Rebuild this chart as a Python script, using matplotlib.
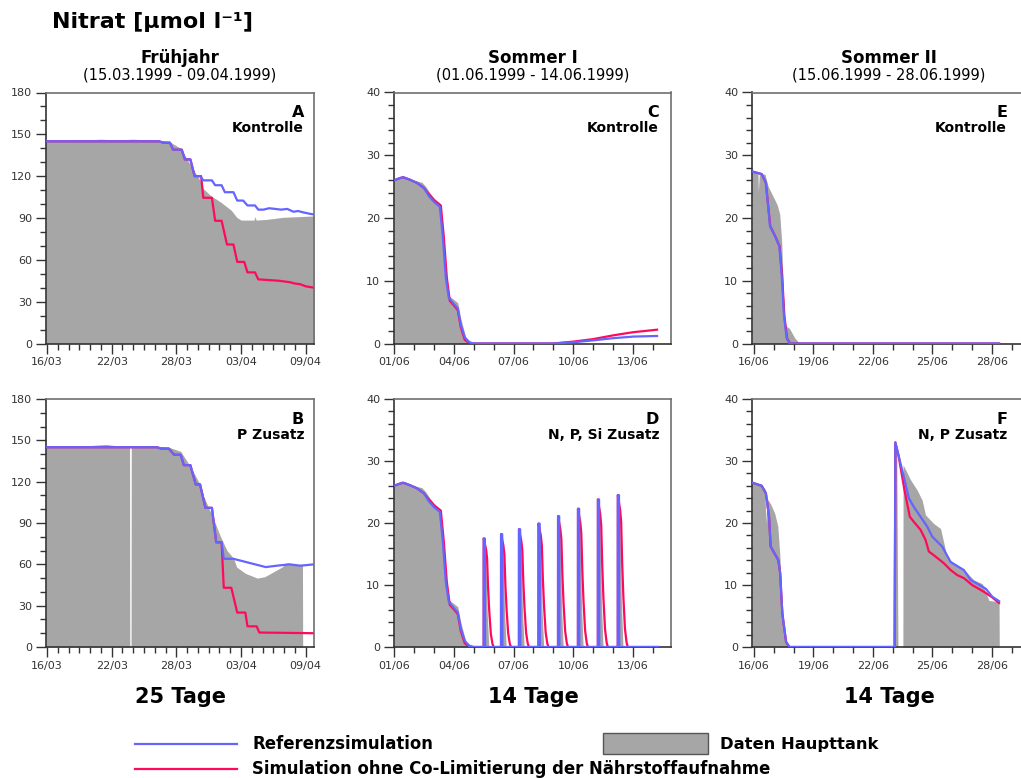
import matplotlib
matplotlib.use("Agg")
import matplotlib.pyplot as plt
import matplotlib.patches as mpatches
from matplotlib.ticker import MultipleLocator, FuncFormatter
from datetime import date, timedelta

plt.rcParams['font.family'] = ['DejaVu Sans']

BLUE = '#6464ff'
RED  = '#ff0a5a'
GREY = '#a6a6a6'

# --- Frühjahr (days since 16.03.1999) -------------------------------------
A_GREY_T = [-0.1, 2.0, 5.0, 6.5, 8.0, 10.5, 11.3, 12.4, 13.3, 14.2, 14.5, 15.2, 16.1,
            17.1, 17.6, 18.0, 19.2, 19.3, 19.4, 20.4, 21.9, 23.4, 24.8]
A_GREY_V = [145.5, 145.5, 146.5, 146.0, 146.5, 145.5, 145.0, 140.0, 128.0, 117.0,
            111.0, 106.0, 101.5, 95.5, 90.5, 88.5, 88.5, 91.0, 88.5, 89.0, 90.5, 91.0, 91.5]
A_BLUE_T = [-0.1, 10.4, 10.8, 11.4, 11.7, 12.5, 12.8, 13.3, 13.7, 14.2, 14.5, 15.3,
            15.6, 16.2, 16.5, 17.3, 17.65, 18.2, 18.6, 19.3, 19.6, 20.1, 20.6, 21.2,
            21.7, 22.3, 22.85, 23.3, 23.8, 24.4, 24.8]
A_BLUE_V = [145.0, 145.0, 144.0, 144.0, 139.0, 139.0, 132.0, 132.0, 120.0, 120.0,
            117.0, 117.0, 113.5, 113.5, 108.5, 108.5, 102.5, 102.5, 99.0, 99.0, 96.0,
            96.0, 97.0, 96.5, 96.0, 96.5, 94.5, 95.0, 94.0, 93.0, 92.5]
A_RED_T = [-0.1, 10.4, 10.8, 11.4, 11.7, 12.5, 12.8, 13.3, 13.7, 14.3, 14.5, 15.3,
           15.6, 16.2, 16.7, 17.3, 17.65, 18.3, 18.6, 19.3, 19.6, 21.5, 22.5, 23.0,
           23.5, 24.0, 24.8]
A_RED_V = [145.0, 145.0, 144.0, 144.0, 139.0, 139.0, 132.0, 132.0, 120.0, 120.0,
           104.5, 104.5, 88.0, 88.0, 71.0, 71.0, 58.5, 58.5, 51.0, 51.0, 46.0, 45.0,
           44.0, 43.0, 42.5, 41.0, 40.0]

B_GREY_T = [-0.1, 3.0, 4.5, 5.5, 6.5, 7.66, 7.68, 7.80, 7.82, 10.5, 11.3, 12.4, 13.3,
            14.2, 14.5, 15.5, 16.1, 16.7, 17.3, 17.6, 18.4, 19.5, 20.2, 21.0, 21.8,
            22.2, 23.0, 23.7, 23.72]
B_GREY_V = [145.5, 145.5, 146.5, 147.0, 146.0, 145.5, 0.0, 0.0, 145.5, 145.5, 145.0,
            142.0, 131.0, 118.0, 110.0, 92.0, 80.0, 70.0, 64.5, 58.0, 53.5, 50.0, 51.0,
            54.5, 58.0, 61.0, 60.0, 60.0, 0.0]
B_BLUE_T = [-0.1, 10.2, 10.6, 11.3, 11.8, 12.4, 12.7, 13.3, 13.8, 14.2, 14.7, 15.3,
            15.7, 16.2, 16.4, 17.3, 18.3, 19.3, 20.3, 21.3, 22.5, 23.5, 24.8]
B_BLUE_V = [145.0, 145.0, 144.0, 144.0, 139.5, 139.5, 132.0, 132.0, 118.0, 118.0,
            101.0, 101.0, 76.0, 76.0, 64.0, 64.0, 62.0, 60.0, 58.0, 59.0, 60.0, 59.0, 60.0]
B_RED_T = [-0.1, 10.2, 10.6, 11.3, 11.8, 12.4, 12.7, 13.3, 13.8, 14.2, 14.7, 15.3,
           15.7, 16.2, 16.4, 17.1, 17.65, 18.4, 18.6, 19.45, 19.7, 24.8]
B_RED_V = [145.0, 145.0, 144.0, 144.0, 139.5, 139.5, 132.0, 132.0, 118.0, 118.0,
           101.0, 101.0, 76.0, 76.0, 43.0, 43.0, 25.0, 25.0, 15.0, 15.0, 10.5, 10.0]

# --- Sommer I (days since 01.06.1999) -------------------------------------
C_GREY_T = [0.0, 0.5, 1.0, 1.4, 1.6, 1.8, 2.05, 2.3, 2.45, 2.65, 2.8, 3.2, 3.35, 3.6,
            3.9, 4.1, 13.3]
C_GREY_V = [26.0, 26.7, 26.0, 25.7, 25.0, 24.0, 23.0, 21.5, 17.0, 9.0, 7.5, 6.5, 4.0,
            1.0, 0.2, 0.0, 0.0]
C_BLUE_T = [0.0, 0.25, 0.45, 0.8, 1.15, 1.5, 1.75, 2.0, 2.3, 2.45, 2.6, 2.75, 3.0,
            3.2, 3.35, 3.55, 3.75, 4.0, 8.0, 9.0, 10.0, 11.0, 12.0, 13.2]
C_BLUE_V = [26.0, 26.3, 26.5, 26.1, 25.6, 24.8, 23.5, 22.6, 21.8, 17.0, 10.5, 7.3,
            6.3, 5.6, 3.0, 1.0, 0.2, 0.0, 0.0, 0.2, 0.5, 0.85, 1.1, 1.2]
C_RED_T = [0.0, 0.25, 0.45, 0.8, 1.15, 1.5, 1.75, 2.0, 2.35, 2.5, 2.65, 2.8, 3.05,
           3.2, 3.35, 3.55, 3.75, 4.0, 8.0, 9.0, 10.0, 11.0, 12.0, 13.2]
C_RED_V = [26.0, 26.3, 26.5, 26.1, 25.6, 24.8, 23.8, 22.9, 22.0, 17.0, 10.5, 6.8,
           5.9, 5.3, 2.6, 0.6, 0.1, 0.0, 0.0, 0.3, 0.7, 1.3, 1.8, 2.2]

# N, P, Si pulses in tank D
D_PULSE_T = [4.50, 5.37, 6.27, 7.25, 8.23, 9.23, 10.23, 11.23]
D_PULSE_PEAK = [17.5, 18.2, 19.0, 19.9, 21.1, 22.3, 23.8, 24.5]
# shape of one pulse: offset after addition [d], fraction of the peak
BLUE_PULSE_DT = [0.0, 0.003, 0.06, 0.07]
BLUE_PULSE_FR = [0.0, 1.0, 1.0, 0.0]
RED_PULSE_DT = [0.0, 0.003, 0.06, 0.12, 0.17, 0.22, 0.28, 0.36, 0.44, 0.5]
RED_PULSE_FR = [0.0, 1.0, 0.95, 0.9, 0.82, 0.55, 0.33, 0.12, 0.03, 0.0]
GREY_PULSE_DT = [0.0, 0.003, 0.1, 0.18, 0.26]
GREY_PULSE_FR = [0.0, 0.97, 0.9, 0.3, 0.0]
D_END = 13.25

# --- Sommer II (days since 16.06.1999) ------------------------------------
E_GREY_T = [-0.1, 0.2, 0.22, 0.27, 0.32, 0.55, 0.72, 0.97, 1.17, 1.3, 1.4, 1.48,
            1.57, 1.79, 2.07, 2.33, 4.3, 4.5, 4.7, 12.36]
E_GREY_V = [27.5, 27.2, 24.2, 27.0, 27.0, 27.0, 25.0, 23.4, 22.1, 20.6, 16.0, 8.2,
            2.9, 2.4, 0.8, 0.0, 0.0, 0.25, 0.0, 0.0]
E_BLUE_T = [-0.08, 0.39, 0.6, 0.81, 1.06, 1.28, 1.4, 1.51, 1.65, 1.8, 12.36]
E_BLUE_V = [27.4, 27.0, 25.6, 18.7, 17.1, 15.5, 10.8, 4.5, 0.8, 0.0, 0.0]
E_RED_T = [-0.08, 0.39, 0.6, 0.82, 1.07, 1.29, 1.42, 1.53, 1.67, 1.82, 12.36]
E_RED_V = [27.4, 27.0, 25.6, 18.7, 17.1, 15.5, 10.8, 4.5, 0.8, 0.0, 0.0]

F_GREY_T = [-0.1, 0.3, 0.55, 0.6, 0.66, 0.85, 1.05, 1.2, 1.3, 1.4, 1.55, 1.7, 1.8,
            7.0, 7.05, 7.2, 7.26, 7.51, 7.52, 7.89, 8.23, 8.48, 8.65, 9.07, 9.41,
            9.58, 9.75, 10.25, 10.76, 11.1, 11.52, 11.85, 12.36, 12.37]
F_GREY_V = [26.5, 26.3, 25.5, 20.0, 24.0, 23.0, 21.5, 19.5, 15.0, 8.0, 1.5, 0.5, 0.0,
            0.0, 33.0, 31.0, 0.0, 0.0, 29.4, 27.0, 25.3, 23.7, 21.3, 19.9, 19.1,
            16.7, 14.3, 13.2, 11.9, 10.8, 10.2, 7.5, 7.3, 0.0]
F_BLUE_T = [-0.08, 0.39, 0.6, 0.76, 0.84, 1.23, 1.32, 1.43, 1.62, 1.79, 7.1, 7.13,
            7.39, 7.59, 7.81, 8.06, 8.4, 8.74, 8.99, 9.49, 9.92, 10.59, 10.93, 11.69,
            12.02, 12.36]
F_BLUE_V = [26.5, 26.0, 24.8, 21.0, 16.2, 14.0, 11.9, 5.4, 0.8, 0.0, 0.0, 33.0, 29.6,
            27.0, 24.0, 22.6, 21.0, 19.4, 17.8, 16.2, 13.7, 12.4, 10.8, 9.4, 8.1, 7.4]
F_RED_T = [-0.08, 0.39, 0.6, 0.76, 0.84, 1.23, 1.32, 1.43, 1.62, 1.79, 7.1, 7.13,
           7.3, 7.59, 7.86, 8.06, 8.4, 8.65, 8.82, 9.07, 9.58, 9.92, 10.25, 10.59,
           11.0, 11.6, 12.02, 12.36]
F_RED_V = [26.5, 26.0, 24.8, 21.0, 16.2, 14.0, 11.9, 5.4, 0.8, 0.0, 0.0, 33.0, 30.7,
           25.3, 21.0, 20.2, 18.9, 17.3, 15.4, 14.8, 13.5, 12.4, 11.6, 11.1, 10.0,
           8.9, 8.0, 7.1]


def add_pulses(base_t, base_v, dts, frs):
    # start curve up to the first addition, then one pulse per addition
    t, v = [], []
    for ti, vi in zip(base_t, base_v):
        if ti < D_PULSE_T[0]:
            t.append(ti)
            v.append(vi)
    for t0, peak in zip(D_PULSE_T, D_PULSE_PEAK):
        for dt, fr in zip(dts, frs):
            t.append(t0 + dt)
            v.append(peak * fr)
    t.append(D_END)
    v.append(0.0)
    return t, v


D_GREY_T, D_GREY_V = add_pulses(C_GREY_T, C_GREY_V, GREY_PULSE_DT, GREY_PULSE_FR)
D_BLUE_T, D_BLUE_V = add_pulses(C_BLUE_T, C_BLUE_V, BLUE_PULSE_DT, BLUE_PULSE_FR)
D_RED_T, D_RED_V = add_pulses(C_RED_T, C_RED_V, RED_PULSE_DT, RED_PULSE_FR)

W, H = 1021, 778
fig = plt.figure(figsize=(W / 100, H / 100), dpi=100)
fig.patch.set_facecolor('white')


def px_rect(x0, y0, x1, y1):
    return [x0 / W, 1 - y1 / H, (x1 - x0) / W, (y1 - y0) / H]


def date_fmt(start):
    return FuncFormatter(lambda x, pos: (start + timedelta(days=int(round(x)))).strftime('%d/%m'))


def panel(rect, xlim, start, xmajor, ylim, ymajor, yminor, grey, blue, red,
          letter, note, label_x):
    ax = fig.add_axes(px_rect(*rect))
    ax.fill_between(grey[0], grey[1], 0, color=GREY, lw=0, zorder=1)
    ax.plot(red[0], red[1], color=RED, lw=1.6, zorder=2)
    ax.plot(blue[0], blue[1], color=BLUE, lw=1.6, zorder=3)
    ax.set_xlim(*xlim)
    ax.set_ylim(*ylim)
    ax.xaxis.set_major_locator(MultipleLocator(xmajor))
    ax.xaxis.set_minor_locator(MultipleLocator(1))
    ax.xaxis.set_major_formatter(date_fmt(start))
    ax.yaxis.set_major_locator(MultipleLocator(ymajor))
    ax.yaxis.set_minor_locator(MultipleLocator(yminor))
    ax.tick_params(which='major', direction='out', length=7, width=1,
                   labelsize=8, labelcolor='#333333', color='#333333', pad=3)
    ax.tick_params(which='minor', direction='out', length=4.3, width=1, color='#333333')
    for side in ('left', 'bottom'):
        ax.spines[side].set_color('#333333')
    for side in ('top', 'right'):
        ax.spines[side].set_color('#707070')
    for sp in ax.spines.values():
        sp.set_linewidth(1.2)
    x_fig = label_x / W
    top_fig = 1 - (rect[1] + 20) / H
    fig.text(x_fig, top_fig, letter, ha='right', va='center',
             fontsize=11.5, fontweight='bold')
    fig.text(x_fig, top_fig - 15.5 / H, note, ha='right', va='center',
             fontsize=10, fontweight='bold')
    return ax


MAR16 = date(1999, 3, 16)
JUN01 = date(1999, 6, 1)
JUN16 = date(1999, 6, 16)

row1 = (92.5, 343.5)
row2 = (399, 647)
colA = (46, 314)
colC = (394, 671)
colE = (752, 1029)

panel((colA[0], row1[0], colA[1], row1[1]), (-0.09, 24.77), MAR16, 6, (0, 180), 30, 10,
      (A_GREY_T, A_GREY_V), (A_BLUE_T, A_BLUE_V), (A_RED_T, A_RED_V),
      'A', 'Kontrolle', 304)
panel((colA[0], row2[0], colA[1], row2[1]), (-0.09, 24.77), MAR16, 6, (0, 180), 30, 10,
      (B_GREY_T, B_GREY_V), (B_BLUE_T, B_BLUE_V), (B_RED_T, B_RED_V),
      'B', 'P Zusatz', 304)
panel((colC[0], row1[0], colC[1], row1[1]), (0, 13.9), JUN01, 3, (0, 40), 10, 2,
      (C_GREY_T, C_GREY_V), (C_BLUE_T, C_BLUE_V), (C_RED_T, C_RED_V),
      'C', 'Kontrolle', 659)
panel((colC[0], row2[0], colC[1], row2[1]), (0, 13.9), JUN01, 3, (0, 40), 10, 2,
      (D_GREY_T, D_GREY_V), (D_BLUE_T, D_BLUE_V), (D_RED_T, D_RED_V),
      'D', 'N, P, Si Zusatz', 659)
panel((colE[0], row1[0], colE[1], row1[1]), (-0.1, 13.87), JUN16, 3, (0, 40), 10, 2,
      (E_GREY_T, E_GREY_V), (E_BLUE_T, E_BLUE_V), (E_RED_T, E_RED_V),
      'E', 'Kontrolle', 1007)
panel((colE[0], row2[0], colE[1], row2[1]), (-0.1, 13.87), JUN16, 3, (0, 40), 10, 2,
      (F_GREY_T, F_GREY_V), (F_BLUE_T, F_BLUE_V), (F_RED_T, F_RED_V),
      'F', 'N, P Zusatz', 1007)

# headings
fig.text(52 / W, 1 - 22 / H, 'Nitrat [µmol l⁻¹]', ha='left', va='center',
         fontsize=16, fontweight='bold')
seasons = [('Frühjahr', '(15.03.1999 - 09.04.1999)', 180, '25 Tage'),
           ('Sommer I', '(01.06.1999 - 14.06.1999)', 533, '14 Tage'),
           ('Sommer II', '(15.06.1999 - 28.06.1999)', 889, '14 Tage')]
for name, span, xc, days in seasons:
    fig.text(xc / W, 1 - 58 / H, name, ha='center', va='center',
             fontsize=12, fontweight='bold')
    fig.text(xc / W, 1 - 75 / H, span, ha='center', va='center', fontsize=10.5)
    fig.text(xc / W, 1 - 697 / H, days, ha='center', va='center',
             fontsize=15, fontweight='bold')

# legend
fig.add_artist(plt.Line2D([135 / W, 237 / W], [1 - 744 / H, 1 - 744 / H],
                          color=BLUE, lw=1.6))
fig.add_artist(plt.Line2D([135 / W, 237 / W], [1 - 769 / H, 1 - 769 / H],
                          color=RED, lw=1.6))
fig.text(252 / W, 1 - 744 / H, 'Referenzsimulation', ha='left', va='center',
         fontsize=11.9, fontweight='bold')
fig.text(252 / W, 1 - 769 / H, 'Simulation ohne Co-Limitierung der Nährstoffaufnahme',
         ha='left', va='center', fontsize=11.9, fontweight='bold')
fig.add_artist(mpatches.Rectangle((603 / W, 1 - 754 / H), 105 / W, 21 / H,
                                  facecolor=GREY, edgecolor='#555555', lw=1,
                                  transform=fig.transFigure))
fig.text(720 / W, 1 - 744 / H, 'Daten Haupttank', ha='left', va='center',
         fontsize=11.8, fontweight='bold')

fig.savefig('out.png', dpi=100)
